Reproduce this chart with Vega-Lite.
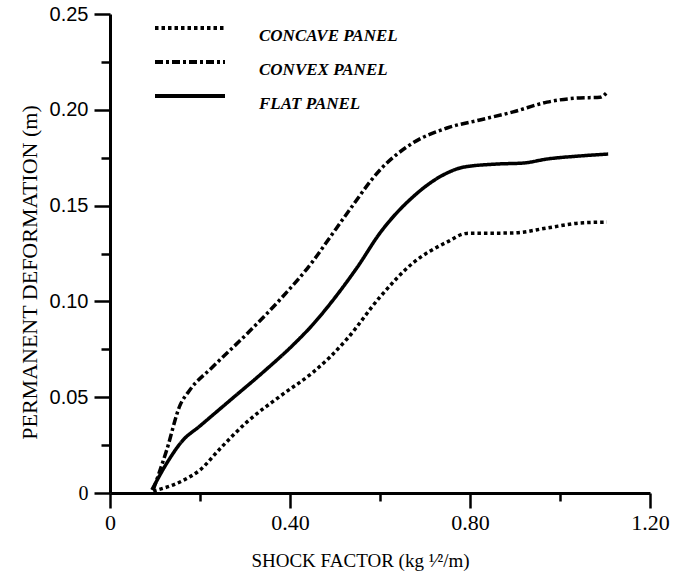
{
  "$schema": "https://vega.github.io/schema/vega-lite/v6.json",
  "width": 540,
  "height": 479,
  "autosize": {"type": "none"},
  "padding": {"left": 110, "top": 14, "right": 24, "bottom": 90},
  "background": "white",
  "config": {
    "view": {"stroke": null},
    "axis": {"grid": false, "domainColor": "black", "tickColor": "black", "labelColor": "black", "titleColor": "black", "domainWidth": 3, "tickWidth": 2.5}
  },
  "data": {
    "values": [
      {"panel": "CONVEX PANEL", "x": 0.096, "y": 0.0016},
      {"panel": "CONVEX PANEL", "x": 0.126, "y": 0.0224},
      {"panel": "CONVEX PANEL", "x": 0.156, "y": 0.046},
      {"panel": "CONVEX PANEL", "x": 0.175, "y": 0.053},
      {"panel": "CONVEX PANEL", "x": 0.229, "y": 0.066},
      {"panel": "CONVEX PANEL", "x": 0.304, "y": 0.083},
      {"panel": "CONVEX PANEL", "x": 0.378, "y": 0.101},
      {"panel": "CONVEX PANEL", "x": 0.451, "y": 0.121},
      {"panel": "CONVEX PANEL", "x": 0.489, "y": 0.1335},
      {"panel": "CONVEX PANEL", "x": 0.527, "y": 0.146},
      {"panel": "CONVEX PANEL", "x": 0.600, "y": 0.1686},
      {"panel": "CONVEX PANEL", "x": 0.673, "y": 0.1827},
      {"panel": "CONVEX PANEL", "x": 0.749, "y": 0.1905},
      {"panel": "CONVEX PANEL", "x": 0.822, "y": 0.1947},
      {"panel": "CONVEX PANEL", "x": 0.896, "y": 0.1989},
      {"panel": "CONVEX PANEL", "x": 0.971, "y": 0.204},
      {"panel": "CONVEX PANEL", "x": 1.044, "y": 0.2062},
      {"panel": "CONVEX PANEL", "x": 1.089, "y": 0.2065},
      {"panel": "CONVEX PANEL", "x": 1.107, "y": 0.2098},
      {"panel": "FLAT PANEL", "x": 0.093, "y": 0.0016},
      {"panel": "FLAT PANEL", "x": 0.130, "y": 0.017},
      {"panel": "FLAT PANEL", "x": 0.160, "y": 0.027},
      {"panel": "FLAT PANEL", "x": 0.200, "y": 0.035},
      {"panel": "FLAT PANEL", "x": 0.270, "y": 0.049},
      {"panel": "FLAT PANEL", "x": 0.340, "y": 0.063},
      {"panel": "FLAT PANEL", "x": 0.410, "y": 0.078},
      {"panel": "FLAT PANEL", "x": 0.451, "y": 0.088},
      {"panel": "FLAT PANEL", "x": 0.500, "y": 0.102},
      {"panel": "FLAT PANEL", "x": 0.550, "y": 0.118},
      {"panel": "FLAT PANEL", "x": 0.600, "y": 0.1357},
      {"panel": "FLAT PANEL", "x": 0.673, "y": 0.1545},
      {"panel": "FLAT PANEL", "x": 0.749, "y": 0.167},
      {"panel": "FLAT PANEL", "x": 0.784, "y": 0.170},
      {"panel": "FLAT PANEL", "x": 0.860, "y": 0.1717},
      {"panel": "FLAT PANEL", "x": 0.918, "y": 0.1722},
      {"panel": "FLAT PANEL", "x": 0.971, "y": 0.1743},
      {"panel": "FLAT PANEL", "x": 1.044, "y": 0.1759},
      {"panel": "FLAT PANEL", "x": 1.107, "y": 0.1769},
      {"panel": "CONCAVE PANEL", "x": 0.096, "y": 0.001},
      {"panel": "CONCAVE PANEL", "x": 0.162, "y": 0.0065},
      {"panel": "CONCAVE PANEL", "x": 0.200, "y": 0.012},
      {"panel": "CONCAVE PANEL", "x": 0.244, "y": 0.023},
      {"panel": "CONCAVE PANEL", "x": 0.304, "y": 0.037},
      {"panel": "CONCAVE PANEL", "x": 0.378, "y": 0.0505},
      {"panel": "CONCAVE PANEL", "x": 0.451, "y": 0.063},
      {"panel": "CONCAVE PANEL", "x": 0.489, "y": 0.071},
      {"panel": "CONCAVE PANEL", "x": 0.527, "y": 0.0805},
      {"panel": "CONCAVE PANEL", "x": 0.600, "y": 0.1023},
      {"panel": "CONCAVE PANEL", "x": 0.673, "y": 0.12},
      {"panel": "CONCAVE PANEL", "x": 0.749, "y": 0.131},
      {"panel": "CONCAVE PANEL", "x": 0.793, "y": 0.1355},
      {"panel": "CONCAVE PANEL", "x": 0.896, "y": 0.1357},
      {"panel": "CONCAVE PANEL", "x": 0.971, "y": 0.1383},
      {"panel": "CONCAVE PANEL", "x": 1.044, "y": 0.1409},
      {"panel": "CONCAVE PANEL", "x": 1.104, "y": 0.1414}
    ]
  },
  "mark": {"type": "line", "interpolate": "monotone", "strokeWidth": 3.5, "strokeCap": "butt", "color": "black"},
  "encoding": {
    "x": {
      "field": "x", "type": "quantitative",
      "scale": {"domain": [0, 1.2], "nice": false, "zero": false},
      "axis": {
        "values": [0, 0.2, 0.4, 0.6, 0.8, 1, 1.2],
        "labelExpr": "datum.value == 0 ? '0' : ((datum.value == 0.4 || datum.value == 0.8 || datum.value == 1.2) ? format(datum.value, '.2f') : '')",
        "tickSize": {"condition": {"test": "datum.value == 0.2 || datum.value == 0.6 || datum.value == 1", "value": 8}, "value": 15},
        "labelFont": "Liberation Serif", "labelFontSize": 22, "labelPadding": 4,
        "labelFlush": false, "labelOverlap": false,
        "title": "SHOCK FACTOR (kg ¹⁄²/m)",
        "titleFont": "Liberation Serif", "titleFontSize": 19, "titleFontWeight": "normal",
        "titlePadding": 18, "titleX": 250
      }
    },
    "y": {
      "field": "y", "type": "quantitative",
      "scale": {"domain": [0, 0.25], "nice": false, "zero": false},
      "axis": {
        "values": [0, 0.025, 0.05, 0.075, 0.1, 0.125, 0.15, 0.175, 0.2, 0.225, 0.25],
        "labelExpr": "datum.value == 0 ? '0' : (abs(datum.value * 20 - round(datum.value * 20)) < 0.000001 ? format(datum.value, '.2f') : '')",
        "tickSize": {"condition": {"test": "abs(datum.value * 20 - round(datum.value * 20)) > 0.000001", "value": 9}, "value": 16},
        "labelFont": {"condition": {"test": "datum.value == 0", "value": "Liberation Serif"}, "value": "Liberation Sans"},
        "labelFontSize": 20, "labelPadding": 6, "labelOverlap": false, "labelFlush": false,
        "title": "PERMANENT DEFORMATION (m)",
        "titleFont": "Liberation Serif", "titleFontSize": 22, "titleFontWeight": "normal",
        "titlePadding": 8, "titleY": 258
      }
    },
    "strokeDash": {
      "field": "panel", "type": "nominal",
      "scale": {"domain": ["CONCAVE PANEL", "CONVEX PANEL", "FLAT PANEL"], "range": [[3.5, 3], [8, 3, 3, 3], [1, 0]]},
      "legend": {
        "title": null, "orient": "none", "legendX": 71, "legendY": 5,
        "symbolType": "M-5,0H5", "symbolSize": 196, "symbolStrokeWidth": 4, "symbolStrokeColor": "black",
        "labelFont": "Liberation Serif", "labelFontSize": 17, "labelFontStyle": "italic", "labelFontWeight": "bold",
        "labelBaseline": "top",
        "labelColor": "black", "labelOffset": 60, "rowPadding": 9, "padding": 0, "labelLimit": 300
      }
    }
  }
}
